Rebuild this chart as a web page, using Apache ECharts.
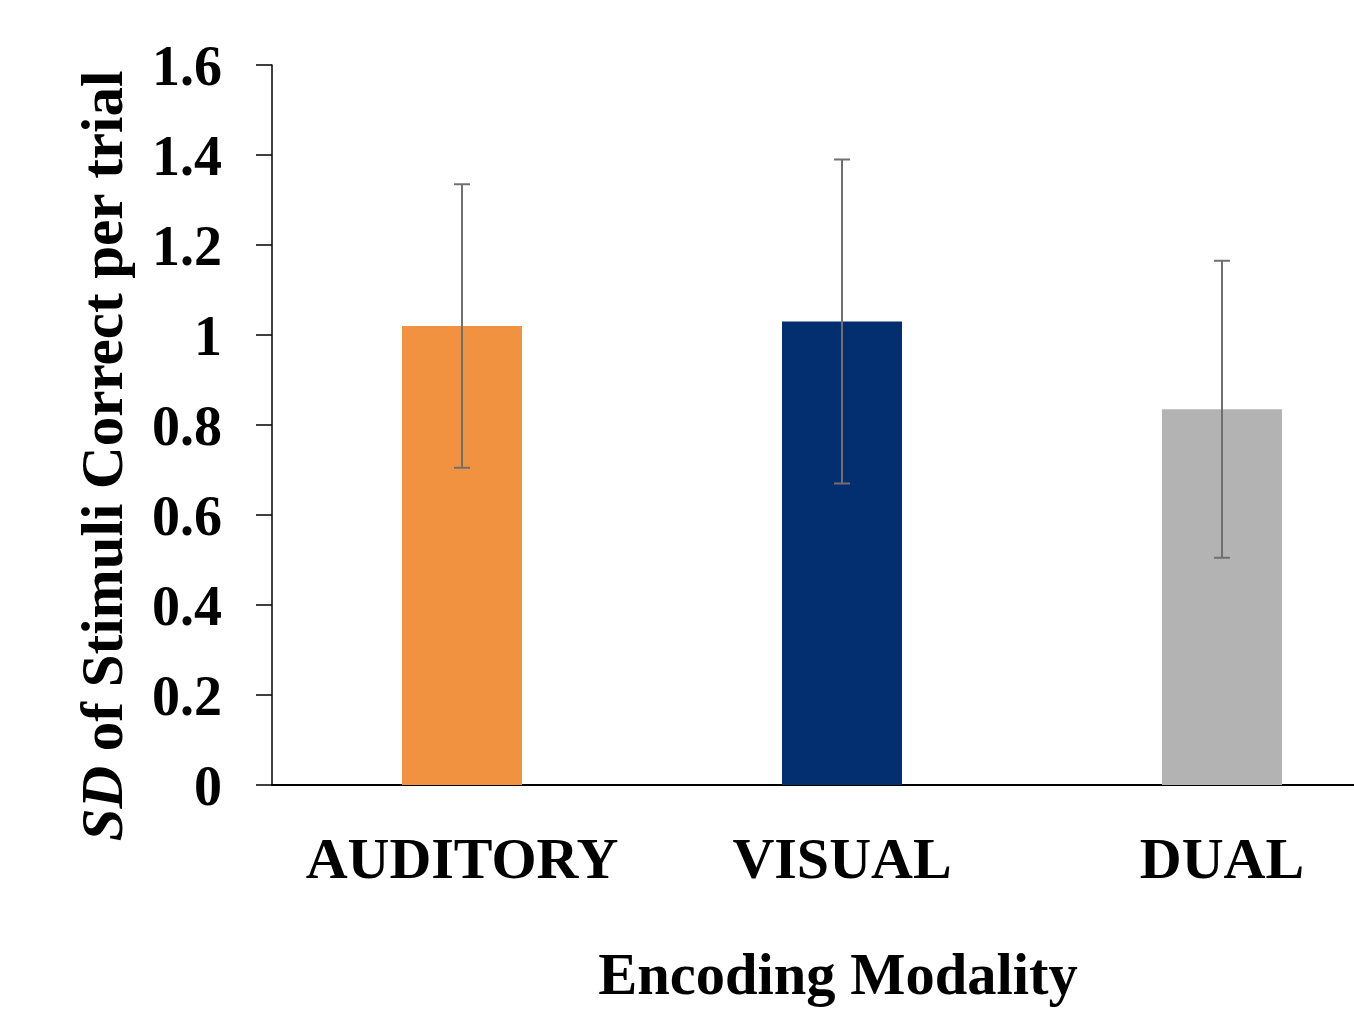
<!DOCTYPE html>
<html>
<head>
<meta charset="utf-8">
<script src="https://cdn.jsdelivr.net/npm/echarts@6/dist/echarts.min.js"></script>
<style>html,body{margin:0;padding:0;background:#fff}#c{width:1354px;height:1012px}</style>
</head>
<body>
<div id="c"></div>
<script>
var categories = ['AUDITORY', 'VISUAL', 'DUAL'];
var means = [1.02, 1.03, 0.835];
var errors = [0.315, 0.36, 0.33];
var colors = ['#F0923F', '#032F70', '#B3B3B3'];
var yTicks = [0, 0.2, 0.4, 0.6, 0.8, 1, 1.2, 1.4, 1.6];

var FONT = '"Liberation Serif", "Times New Roman", serif';
var chart = echarts.init(document.getElementById('c'));
chart.setOption({
  animation: false,
  backgroundColor: '#fff',
  grid: { left: 272, top: 65, height: 720, width: 1140, containLabel: false, outerBoundsMode: 'none' },
  xAxis: {
    type: 'category',
    data: categories,
    axisTick: { show: false },
    axisLine: { lineStyle: { color: '#000', width: 2 } },
    axisLabel: { interval: 0, color: '#000', fontFamily: FONT, fontWeight: 'bold', fontSize: 58, margin: 49 },
    name: 'Encoding Modality',
    nameLocation: 'middle',
    nameGap: 164,
    nameTextStyle: { color: '#000', fontFamily: FONT, fontWeight: 'bold', fontSize: 58.5, padding: [0, 8, 0, 0] }
  },
  yAxis: {
    type: 'value',
    min: yTicks[0],
    max: yTicks[yTicks.length - 1],
    interval: 0.2,
    splitLine: { show: false },
    axisLine: { show: true, lineStyle: { color: '#000', width: 1.5 } },
    axisTick: { show: true, inside: false, length: 16, lineStyle: { color: '#000', width: 1.5 } },
    axisLabel: {
      color: '#000', margin: 50,
      formatter: function (v) { return '{t|' + v + '}'; },
      rich: { t: { fontFamily: FONT, fontWeight: 'bold', fontSize: 56, color: '#000', padding: [12, 0, 0, 0] } }
    }
  },
  graphic: [{
    type: 'text',
    x: 107,
    y: 456,
    rotation: Math.PI / 2,
    style: {
      text: '{i|SD} of Stimuli Correct per trial',
      fill: '#000',
      font: 'bold 59px ' + FONT,
      align: 'center',
      verticalAlign: 'middle',
      rich: {
        i: { fontStyle: 'italic', fontWeight: 'bold', fontSize: 59, fontFamily: FONT, fill: '#000' }
      }
    }
  }],
  series: [{
    type: 'bar',
    barWidth: 120,
    data: means.map(function (v, i) { return { value: v, itemStyle: { color: colors[i] } }; })
  }, {
    type: 'custom',
    data: means.map(function (v, i) { return [i, v - errors[i], v + errors[i]]; }),
    renderItem: function (params, api) {
      var lo = api.coord([api.value(0), api.value(1)]);
      var hi = api.coord([api.value(0), api.value(2)]);
      var hw = 8;
      var st = { stroke: '#707070', lineWidth: 2 };
      return {
        type: 'group',
        children: [
          { type: 'line', shape: { x1: lo[0], y1: lo[1], x2: hi[0], y2: hi[1] }, style: st },
          { type: 'line', shape: { x1: lo[0] - hw, y1: lo[1], x2: lo[0] + hw, y2: lo[1] }, style: st },
          { type: 'line', shape: { x1: hi[0] - hw, y1: hi[1], x2: hi[0] + hw, y2: hi[1] }, style: st }
        ]
      };
    },
    z: 5
  }]
});
</script>
</body>
</html>
